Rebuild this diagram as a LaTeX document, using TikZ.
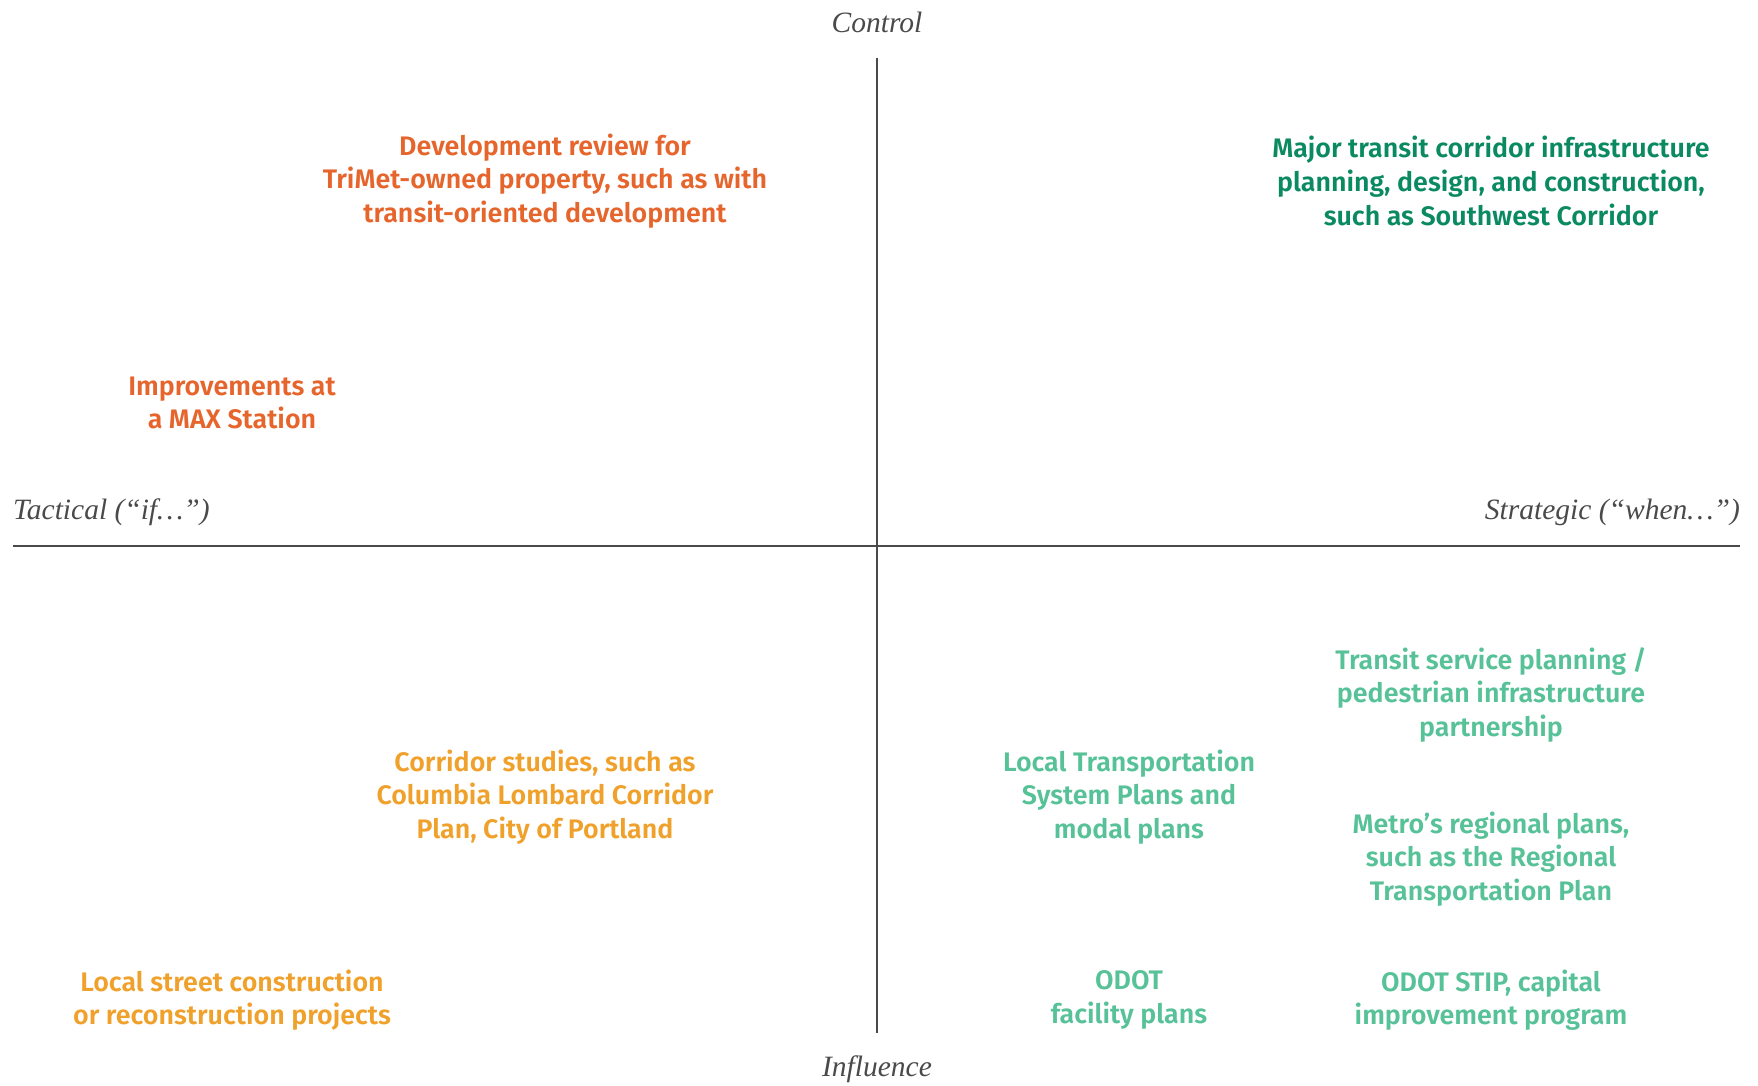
\documentclass[tikz,border=0pt]{standalone}
\usepackage{fontspec}
\setmainfont{Fira Sans}[BoldFont={Fira Sans SemiBold}]
\newfontfamily\axisfont{Liberation Serif}
\begin{document}
\begin{tikzpicture}[x=1pt,y=-1pt,
  item/.style={align=center,font=\fontsize{26.8}{33.6}\selectfont\bfseries,inner sep=0pt},
  axislabel/.style={font=\axisfont\itshape\fontsize{29.5}{34}\selectfont,text=axisgrey,inner sep=0pt},
  axisline/.style={draw=axisgrey,line width=2.2pt}]
\definecolor{axisgrey}{HTML}{4A4A4A}
\definecolor{rust}{HTML}{E5652C}
\definecolor{amber}{HTML}{EFA12B}
\definecolor{deepgreen}{HTML}{0B8A62}
\definecolor{mint}{HTML}{57C197}
\useasboundingbox (0,0) rectangle (1758,1085);
% axes
\coordinate (top) at (877,58);
\coordinate (bottom) at (877,1033);
\coordinate (left) at (13,546);
\coordinate (right) at (1740,546);
\draw[axisline] (top) -- (bottom);
\draw[axisline] (left) -- (right);
\node[axislabel] (control) at (877,22) {Control};
\node[axislabel] (influence) at (877,1069) {Influence};
\node[axislabel,anchor=west] (tactical) at (13,512) {Tactical (“if…”)};
\node[axislabel,anchor=east] (strategic) at (1740,512) {Strategic (“when…”)};
% quadrant items
\node[item,text=rust] (devreview) at (545,181) {Development review for\\TriMet-owned property, such as with\\transit-oriented development};
\node[item,text=rust] (max) at (232,403) {Improvements at\\a MAX Station};
\node[item,text=deepgreen] (corridor) at (1491,181) {Major transit corridor infrastructure\\planning, design, and construction,\\such as Southwest Corridor};
\node[item,text=amber] (studies) at (545,797) {Corridor studies, such as\\Columbia Lombard Corridor\\Plan, City of Portland};
\node[item,text=amber] (street) at (232,1000) {Local street construction\\or reconstruction projects};
\node[item,text=mint] (service) at (1491,695) {Transit service planning /\\pedestrian infrastructure\\partnership};
\node[item,text=mint] (tsp) at (1129,797) {Local Transportation\\System Plans and\\modal plans};
\node[item,text=mint] (metro) at (1491,859) {Metro’s regional plans,\\such as the Regional\\Transportation Plan};
\node[item,text=mint] (facility) at (1129,1000) {ODOT\\facility plans};
\node[item,text=mint] (stip) at (1491,1000) {ODOT STIP, capital\\improvement program};
\end{tikzpicture}
\end{document}
